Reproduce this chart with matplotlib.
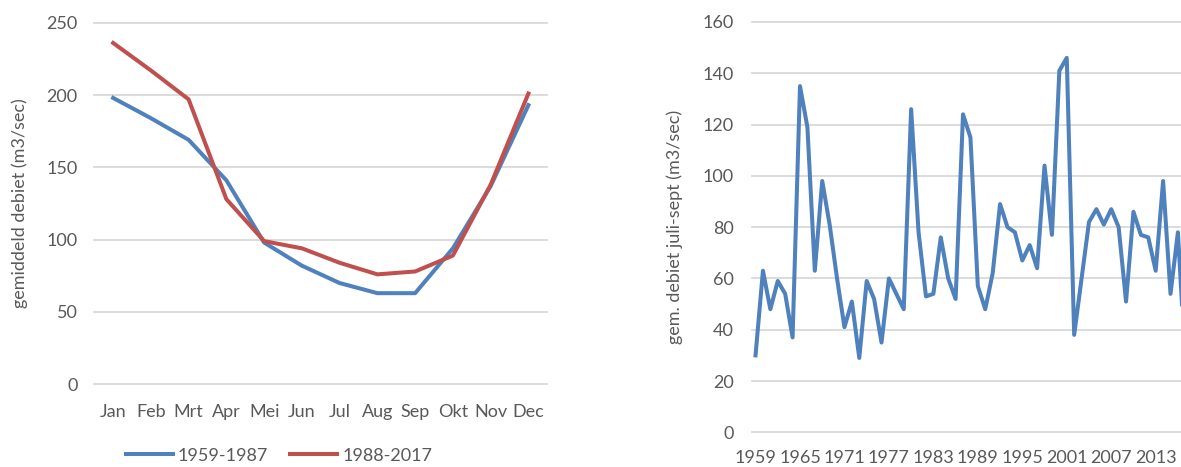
#   Debiet per maand en zomerdebiet per jaar
from matplotlib import pyplot as plt

maanden = ['Jan', 'Feb', 'Mrt', 'Apr', 'Mei', 'Jun', 'Jul', 'Aug', 'Sep', 'Okt', 'Nov', 'Dec']
periode_1 = [198, 184, 169, 141, 98, 82, 70, 63, 63, 94, 137, 193]
periode_2 = [236, 217, 197, 128, 99, 94, 84, 76, 78, 89, 138, 201]

jaren = list(range(1959, 2018))
zomer_debiet = [30, 63, 48, 59, 54, 37, 135, 119, 63, 98, 81, 60,
                41, 51, 29, 59, 52, 35, 60, 54, 48, 126, 78, 53,
                54, 76, 60, 52, 124, 115, 57, 48, 62, 89, 80, 78,
                67, 73, 64, 104, 77, 141, 146, 38, 60, 82, 87, 81,
                87, 80, 51, 86, 77, 76, 63, 98, 54, 78, 27]

blauw = '#4F81BD'
rood = '#C0504D'
grijs = '#595959'
raster = '#D9D9D9'

plt.rcParams['font.family'] = ['Lato', 'DejaVu Sans']
plt.rcParams['font.size'] = 13

fig = plt.figure(figsize=(11.81, 4.67), dpi=100)

def opmaak(ax, ylim, stap):
    ax.set_ylim(*ylim)
    ax.set_yticks(range(ylim[0], ylim[1] + 1, stap))
    for s in ax.spines.values():
        s.set_visible(False)
    ax.tick_params(length=0, colors=grijs, labelsize=13)
    ax.yaxis.grid(True, color=raster, linewidth=1.3)
    ax.set_axisbelow(True)
    for gl in ax.get_ygridlines():
        gl.set_clip_on(False)

# links: gemiddeld debiet per maand
ax1 = fig.add_axes([0.0798, 0.1771, 0.3836, 0.7743])
x = range(len(maanden))
ax1.plot(x, periode_1, color=blauw, lw=2.9, label='1959-1987', solid_joinstyle='round')
ax1.plot(x, periode_2, color=rood, lw=2.9, label='1988-2017', solid_joinstyle='round')
ax1.set_xlim(-0.5, len(maanden) - 0.5)
ax1.set_xticks(list(x))
ax1.set_xticklabels(maanden)
opmaak(ax1, (0, 250), 50)
ax1.tick_params(axis='x', pad=14)
ax1.tick_params(axis='y', pad=12)
ax1.set_ylabel('gemiddeld debiet (m3/sec)', color=grijs, fontsize=13)
ax1.yaxis.set_label_coords(-0.146, 0.5)
ax1.legend(loc='center', bbox_to_anchor=(0.2362, 0.024), bbox_transform=fig.transFigure,
           ncol=2, frameon=False, handlelength=2.6, handletextpad=0.3,
           columnspacing=1.2, labelcolor=grijs, fontsize=13)

# rechts: gemiddeld debiet juli-sept per jaar
ax2 = fig.add_axes([0.6366, 0.0743, 0.3702, 0.8786])
k = range(len(jaren))
ax2.plot(k, zomer_debiet, color=blauw, lw=2.9, solid_joinstyle='round')
ax2.set_xlim(-0.5, len(jaren) - 0.5)
ax2.set_xticks(list(k)[::6])
ax2.set_xticklabels([str(j) for j in jaren[::6]])
opmaak(ax2, (0, 160), 20)
ax2.tick_params(axis='x', pad=13)
ax2.tick_params(axis='y', pad=13)
ax2.set_ylabel('gem. debiet juli-sept (m3/sec)', color=grijs, fontsize=13)
ax2.yaxis.set_label_coords(-0.157, 0.5)

fig.savefig('out.png', dpi=100)
